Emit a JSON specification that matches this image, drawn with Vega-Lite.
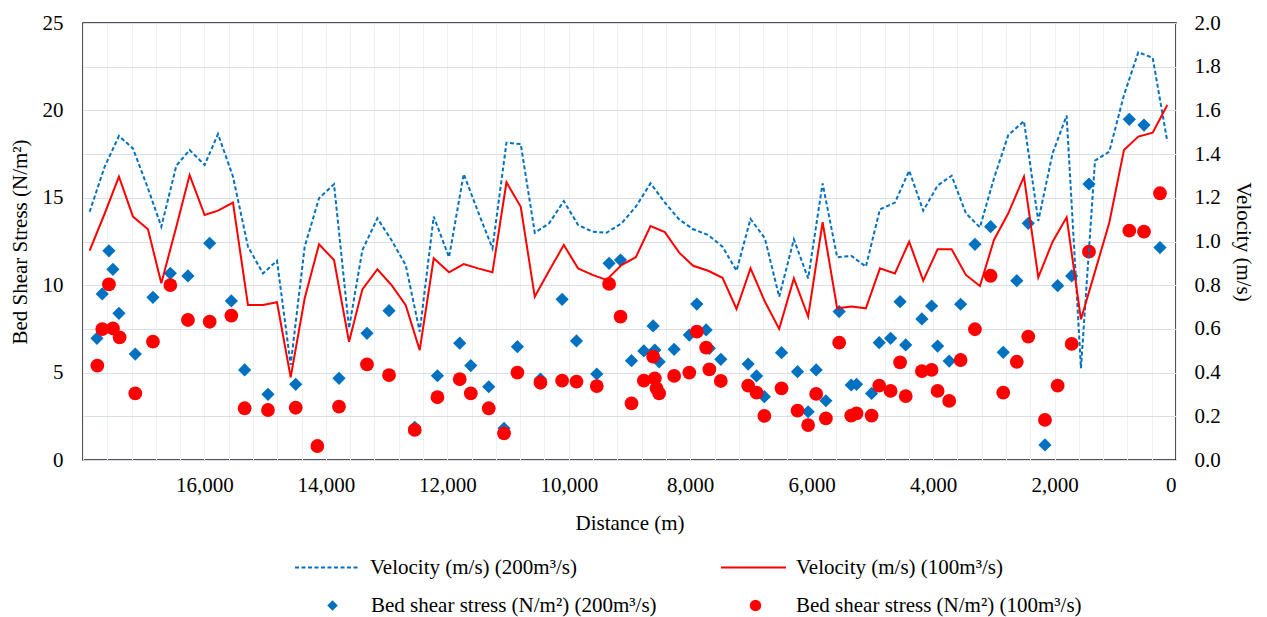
{
  "$schema": "https://vega.github.io/schema/vega-lite/v6.json",
  "width": 1093,
  "height": 437,
  "autosize": "none",
  "padding": {"left": 83, "top": 23, "right": 91, "bottom": 157},
  "background": "white",
  "config": {
    "view": {"stroke": "#1a1a1a", "strokeWidth": 1.5},
    "font": "Liberation Serif"
  },
  "datasets": {
    "vel": [
      {"d": 17891, "v200": 1.136, "v100": 0.958},
      {"d": 17644, "v200": 1.342, "v100": 1.127},
      {"d": 17408, "v200": 1.483, "v100": 1.297},
      {"d": 17177, "v200": 1.426, "v100": 1.114},
      {"d": 16930, "v200": 1.243, "v100": 1.056},
      {"d": 16710, "v200": 1.068, "v100": 0.809},
      {"d": 16463, "v200": 1.347, "v100": 1.068},
      {"d": 16244, "v200": 1.419, "v100": 1.304},
      {"d": 15997, "v200": 1.350, "v100": 1.121},
      {"d": 15777, "v200": 1.492, "v100": 1.141},
      {"d": 15530, "v200": 1.297, "v100": 1.178},
      {"d": 15283, "v200": 0.976, "v100": 0.709},
      {"d": 15036, "v200": 0.854, "v100": 0.709},
      {"d": 14805, "v200": 0.912, "v100": 0.722},
      {"d": 14580, "v200": 0.435, "v100": 0.378},
      {"d": 14349, "v200": 0.976, "v100": 0.740},
      {"d": 14113, "v200": 1.198, "v100": 0.987},
      {"d": 13866, "v200": 1.262, "v100": 0.915},
      {"d": 13619, "v200": 0.603, "v100": 0.541},
      {"d": 13399, "v200": 0.961, "v100": 0.781},
      {"d": 13152, "v200": 1.106, "v100": 0.873},
      {"d": 12921, "v200": 1.007, "v100": 0.801},
      {"d": 12685, "v200": 0.892, "v100": 0.709},
      {"d": 12455, "v200": 0.587, "v100": 0.503},
      {"d": 12224, "v200": 1.114, "v100": 0.923},
      {"d": 11972, "v200": 0.928, "v100": 0.859},
      {"d": 11730, "v200": 1.309, "v100": 0.897},
      {"d": 11494, "v200": 1.136, "v100": 0.877},
      {"d": 11257, "v200": 0.969, "v100": 0.859},
      {"d": 11026, "v200": 1.452, "v100": 1.271},
      {"d": 10791, "v200": 1.446, "v100": 1.159},
      {"d": 10560, "v200": 1.040, "v100": 0.747},
      {"d": 10324, "v200": 1.083, "v100": 0.866},
      {"d": 10082, "v200": 1.185, "v100": 0.984},
      {"d": 9847, "v200": 1.076, "v100": 0.877},
      {"d": 9610, "v200": 1.045, "v100": 0.847},
      {"d": 9379, "v200": 1.040, "v100": 0.824},
      {"d": 9132, "v200": 1.083, "v100": 0.892},
      {"d": 8896, "v200": 1.159, "v100": 0.928},
      {"d": 8654, "v200": 1.266, "v100": 1.071},
      {"d": 8418, "v200": 1.178, "v100": 1.043},
      {"d": 8182, "v200": 1.101, "v100": 0.949},
      {"d": 7952, "v200": 1.056, "v100": 0.889},
      {"d": 7705, "v200": 1.030, "v100": 0.866},
      {"d": 7468, "v200": 0.976, "v100": 0.834},
      {"d": 7237, "v200": 0.866, "v100": 0.691},
      {"d": 7007, "v200": 1.103, "v100": 0.877},
      {"d": 6771, "v200": 1.015, "v100": 0.725},
      {"d": 6535, "v200": 0.747, "v100": 0.600},
      {"d": 6293, "v200": 1.010, "v100": 0.831},
      {"d": 6058, "v200": 0.831, "v100": 0.656},
      {"d": 5820, "v200": 1.266, "v100": 1.088},
      {"d": 5580, "v200": 0.928, "v100": 0.694},
      {"d": 5343, "v200": 0.934, "v100": 0.702},
      {"d": 5107, "v200": 0.885, "v100": 0.694},
      {"d": 4876, "v200": 1.147, "v100": 0.877},
      {"d": 4629, "v200": 1.178, "v100": 0.854},
      {"d": 4394, "v200": 1.324, "v100": 0.999},
      {"d": 4163, "v200": 1.141, "v100": 0.821},
      {"d": 3926, "v200": 1.256, "v100": 0.964},
      {"d": 3695, "v200": 1.301, "v100": 0.964},
      {"d": 3460, "v200": 1.129, "v100": 0.847},
      {"d": 3229, "v200": 1.065, "v100": 0.796},
      {"d": 2998, "v200": 1.289, "v100": 1.007},
      {"d": 2762, "v200": 1.487, "v100": 1.129},
      {"d": 2504, "v200": 1.551, "v100": 1.297},
      {"d": 2268, "v200": 1.094, "v100": 0.836},
      {"d": 2032, "v200": 1.404, "v100": 0.999},
      {"d": 1801, "v200": 1.576, "v100": 1.111},
      {"d": 1565, "v200": 0.420, "v100": 0.644},
      {"d": 1334, "v200": 1.370, "v100": 0.862},
      {"d": 1099, "v200": 1.411, "v100": 1.086},
      {"d": 857, "v200": 1.670, "v100": 1.419},
      {"d": 621, "v200": 1.866, "v100": 1.480},
      {"d": 384, "v200": 1.841, "v100": 1.498},
      {"d": 143, "v200": 1.457, "v100": 1.625}
    ],
    "s200": [
      {"d": 17770, "s": 6.96}, {"d": 17683, "s": 9.50}, {"d": 17573, "s": 11.97}, {"d": 17507, "s": 10.91},
      {"d": 17408, "s": 8.39}, {"d": 17139, "s": 6.06}, {"d": 16848, "s": 9.31}, {"d": 16562, "s": 10.68},
      {"d": 16272, "s": 10.53}, {"d": 15914, "s": 12.40}, {"d": 15557, "s": 9.10}, {"d": 15338, "s": 5.15},
      {"d": 14954, "s": 3.76}, {"d": 14497, "s": 4.33}, {"d": 13784, "s": 4.67}, {"d": 13323, "s": 7.25},
      {"d": 12960, "s": 8.54}, {"d": 12537, "s": 1.87}, {"d": 12163, "s": 4.82}, {"d": 11796, "s": 6.68},
      {"d": 11614, "s": 5.40}, {"d": 11318, "s": 4.19}, {"d": 11066, "s": 1.81}, {"d": 10846, "s": 6.48},
      {"d": 10467, "s": 4.63}, {"d": 10110, "s": 9.19}, {"d": 9873, "s": 6.81}, {"d": 9539, "s": 4.92},
      {"d": 9336, "s": 11.25}, {"d": 9148, "s": 11.44}, {"d": 8967, "s": 5.68}, {"d": 8764, "s": 6.24},
      {"d": 8611, "s": 7.67}, {"d": 8583, "s": 6.29}, {"d": 8512, "s": 5.62}, {"d": 8265, "s": 6.33},
      {"d": 8015, "s": 7.15}, {"d": 7891, "s": 8.92}, {"d": 7738, "s": 7.44}, {"d": 7685, "s": 6.39},
      {"d": 7496, "s": 5.76}, {"d": 7046, "s": 5.49}, {"d": 6908, "s": 4.81}, {"d": 6779, "s": 3.62},
      {"d": 6496, "s": 6.14}, {"d": 6233, "s": 5.05}, {"d": 6058, "s": 2.76}, {"d": 5926, "s": 5.15},
      {"d": 5766, "s": 3.39}, {"d": 5547, "s": 8.49}, {"d": 5349, "s": 4.29}, {"d": 5261, "s": 4.33},
      {"d": 5013, "s": 3.81}, {"d": 4888, "s": 6.71}, {"d": 4700, "s": 6.96}, {"d": 4544, "s": 9.06},
      {"d": 4451, "s": 6.58}, {"d": 4185, "s": 8.07}, {"d": 4025, "s": 8.81}, {"d": 3926, "s": 6.52},
      {"d": 3735, "s": 5.66}, {"d": 3547, "s": 8.91}, {"d": 3311, "s": 12.34}, {"d": 3053, "s": 13.35},
      {"d": 2845, "s": 6.16}, {"d": 2622, "s": 10.26}, {"d": 2433, "s": 13.54}, {"d": 2158, "s": 0.86},
      {"d": 1949, "s": 9.97}, {"d": 1718, "s": 10.53}, {"d": 1433, "s": 15.79}, {"d": 769, "s": 19.49},
      {"d": 527, "s": 19.16}, {"d": 264, "s": 12.15}
    ],
    "s100": [
      {"d": 17764, "s": 5.40}, {"d": 17683, "s": 7.49}, {"d": 17573, "s": 10.05}, {"d": 17507, "s": 7.53},
      {"d": 17397, "s": 7.02}, {"d": 17139, "s": 3.81}, {"d": 16848, "s": 6.77}, {"d": 16562, "s": 10.01},
      {"d": 16272, "s": 8.01}, {"d": 15914, "s": 7.91}, {"d": 15557, "s": 8.26}, {"d": 15338, "s": 2.96},
      {"d": 14954, "s": 2.86}, {"d": 14497, "s": 2.99}, {"d": 14140, "s": 0.80}, {"d": 13784, "s": 3.05},
      {"d": 13323, "s": 5.47}, {"d": 12960, "s": 4.86}, {"d": 12537, "s": 1.72}, {"d": 12163, "s": 3.59},
      {"d": 11796, "s": 4.62}, {"d": 11614, "s": 3.81}, {"d": 11318, "s": 2.96}, {"d": 11066, "s": 1.52},
      {"d": 10846, "s": 5.00}, {"d": 10467, "s": 4.42}, {"d": 10110, "s": 4.54}, {"d": 9873, "s": 4.48},
      {"d": 9539, "s": 4.23}, {"d": 9336, "s": 10.07}, {"d": 9148, "s": 8.20}, {"d": 8967, "s": 3.24},
      {"d": 8764, "s": 4.54}, {"d": 8611, "s": 5.91}, {"d": 8583, "s": 4.67}, {"d": 8555, "s": 4.10},
      {"d": 8512, "s": 3.81}, {"d": 8265, "s": 4.81}, {"d": 8015, "s": 5.00}, {"d": 7891, "s": 7.34},
      {"d": 7738, "s": 6.43}, {"d": 7685, "s": 5.19}, {"d": 7496, "s": 4.52}, {"d": 7046, "s": 4.25},
      {"d": 6908, "s": 3.85}, {"d": 6779, "s": 2.52}, {"d": 6496, "s": 4.10}, {"d": 6233, "s": 2.82},
      {"d": 6058, "s": 2.00}, {"d": 5926, "s": 3.78}, {"d": 5766, "s": 2.38}, {"d": 5547, "s": 6.71},
      {"d": 5349, "s": 2.54}, {"d": 5261, "s": 2.67}, {"d": 5013, "s": 2.54}, {"d": 4888, "s": 4.25},
      {"d": 4700, "s": 3.95}, {"d": 4544, "s": 5.59}, {"d": 4451, "s": 3.66}, {"d": 4185, "s": 5.09},
      {"d": 4025, "s": 5.15}, {"d": 3926, "s": 3.95}, {"d": 3735, "s": 3.38}, {"d": 3547, "s": 5.72},
      {"d": 3311, "s": 7.48}, {"d": 3053, "s": 10.54}, {"d": 2845, "s": 3.85}, {"d": 2622, "s": 5.62},
      {"d": 2433, "s": 7.06}, {"d": 2158, "s": 2.29}, {"d": 1949, "s": 4.25}, {"d": 1718, "s": 6.64},
      {"d": 1433, "s": 11.92}, {"d": 769, "s": 13.12}, {"d": 527, "s": 13.06}, {"d": 264, "s": 15.26}
    ]
  },
  "encoding": {
    "x": {
      "field": "d",
      "type": "quantitative",
      "scale": {"domain": [0, 18000], "reverse": true, "nice": false, "zero": false},
      "axis": {
        "title": "Distance (m)",
        "values": [0, 400, 800, 1200, 1600, 2000, 2400, 2800, 3200, 3600, 4000, 4400, 4800, 5200, 5600, 6000, 6400, 6800, 7200, 7600, 8000, 8400, 8800, 9200, 9600, 10000, 10400, 10800, 11200, 11600, 12000, 12400, 12800, 13200, 13600, 14000, 14400, 14800, 15200, 15600, 16000, 16400, 16800, 17200, 17600, 18000],
        "labelExpr": "datum.value % 2000 === 0 && datum.value < 18000 ? format(datum.value, ',') : ''",
        "labelOverlap": false,
        "labelBound": false,
        "grid": true,
        "gridColor": "#EDF0F5",
        "gridWidth": 1,
        "ticks": false,
        "domain": false,
        "labelFont": "Liberation Serif",
        "labelFontSize": 21,
        "labelColor": "#000000",
        "labelPadding": 14,
        "titleFont": "Liberation Serif",
        "titleFontSize": 21,
        "titleFontWeight": "normal",
        "titleColor": "#000000",
        "titlePadding": 17
      }
    }
  },
  "layer": [
    {
      "data": {"name": "s200"},
      "mark": {"type": "point", "shape": "diamond", "filled": true, "size": 175, "opacity": 1, "strokeWidth": 0},
      "encoding": {
        "y": {
          "field": "s", "type": "quantitative",
          "scale": {"domain": [0, 25], "nice": false, "zero": true},
          "axis": {
            "title": "Bed Shear Stress (N/m²)",
            "values": [0, 5, 10, 15, 20, 25],
            "grid": false, "ticks": false, "domain": false,
            "labelFont": "Liberation Serif", "labelFontSize": 21, "labelColor": "#000000", "labelPadding": 20,
            "titleFont": "Liberation Serif", "titleFontSize": 21, "titleFontWeight": "normal", "titleColor": "#000000", "titlePadding": 12
          }
        },
        "color": {
          "datum": "Bed shear stress (N/m²) (200m³/s)", "type": "nominal",
          "scale": {"range": ["#0070C0"]},
          "legend": {
            "orient": "none", "legendX": 239, "legendY": 572, "padding": 0, "title": null,
            "symbolType": "diamond", "symbolSize": 110, "symbolStrokeWidth": 0,
            "labelFont": "Liberation Serif", "labelFontSize": 21, "labelColor": "#000000", "labelOffset": 28, "labelLimit": 0
          }
        }
      }
    },
    {
      "data": {"name": "s100"},
      "mark": {"type": "point", "shape": "circle", "filled": true, "size": 190, "opacity": 1, "strokeWidth": 0},
      "encoding": {
        "y": {
          "field": "s", "type": "quantitative",
          "scale": {"domain": [0, 25], "nice": false, "zero": true},
          "axis": null
        },
        "color": {
          "datum": "Bed shear stress (N/m²) (100m³/s)", "type": "nominal",
          "scale": {"range": ["#FF0000"]},
          "legend": {
            "orient": "none", "legendX": 662, "legendY": 572, "padding": 0, "title": null,
            "symbolType": "circle", "symbolSize": 130, "symbolStrokeWidth": 0,
            "labelFont": "Liberation Serif", "labelFontSize": 21, "labelColor": "#000000", "labelOffset": 30, "labelLimit": 0
          }
        }
      }
    },
    {
      "data": {"name": "vel"},
      "mark": {"type": "line", "strokeDash": [4, 2.5], "strokeWidth": 2},
      "encoding": {
        "y": {
          "field": "v200", "type": "quantitative",
          "scale": {"domain": [0, 2], "nice": false, "zero": true},
          "axis": {
            "orient": "right",
            "title": "Velocity (m/s)",
            "values": [0, 0.2, 0.4, 0.6, 0.8, 1.0, 1.2, 1.4, 1.6, 1.8, 2.0],
            "format": ".1f",
            "grid": true, "gridColor": "#D9DFE9", "gridWidth": 1.2,
            "ticks": false, "domain": false,
            "labelFont": "Liberation Serif", "labelFontSize": 21, "labelColor": "#000000", "labelPadding": 18,
            "titleFont": "Liberation Serif", "titleFontSize": 21, "titleFontWeight": "normal", "titleColor": "#000000", "titlePadding": 12
          }
        },
        "color": {
          "datum": "Velocity (m/s) (200m³/s)", "type": "nominal",
          "scale": {"range": ["#0070C0"]},
          "legend": {
            "orient": "none", "legendX": 211, "legendY": 511, "padding": 0, "title": null,
            "symbolType": "stroke", "symbolSize": 4225, "symbolStrokeWidth": 2, "symbolDash": [4, 2.5],
            "labelFont": "Liberation Serif", "labelFontSize": 21, "labelColor": "#000000", "labelOffset": 9, "labelLimit": 0
          }
        }
      }
    },
    {
      "data": {"name": "vel"},
      "mark": {"type": "line", "strokeWidth": 2},
      "encoding": {
        "y": {
          "field": "v100", "type": "quantitative",
          "scale": {"domain": [0, 2], "nice": false, "zero": true},
          "axis": null
        },
        "color": {
          "datum": "Velocity (m/s) (100m³/s)", "type": "nominal",
          "scale": {"range": ["#FF0000"]},
          "legend": {
            "orient": "none", "legendX": 637, "legendY": 511, "padding": 0, "title": null,
            "symbolType": "stroke", "symbolSize": 4225, "symbolStrokeWidth": 2,
            "labelFont": "Liberation Serif", "labelFontSize": 21, "labelColor": "#000000", "labelOffset": 9, "labelLimit": 0
          }
        }
      }
    }
  ],
  "resolve": {"scale": {"y": "independent", "color": "independent"}}
}
